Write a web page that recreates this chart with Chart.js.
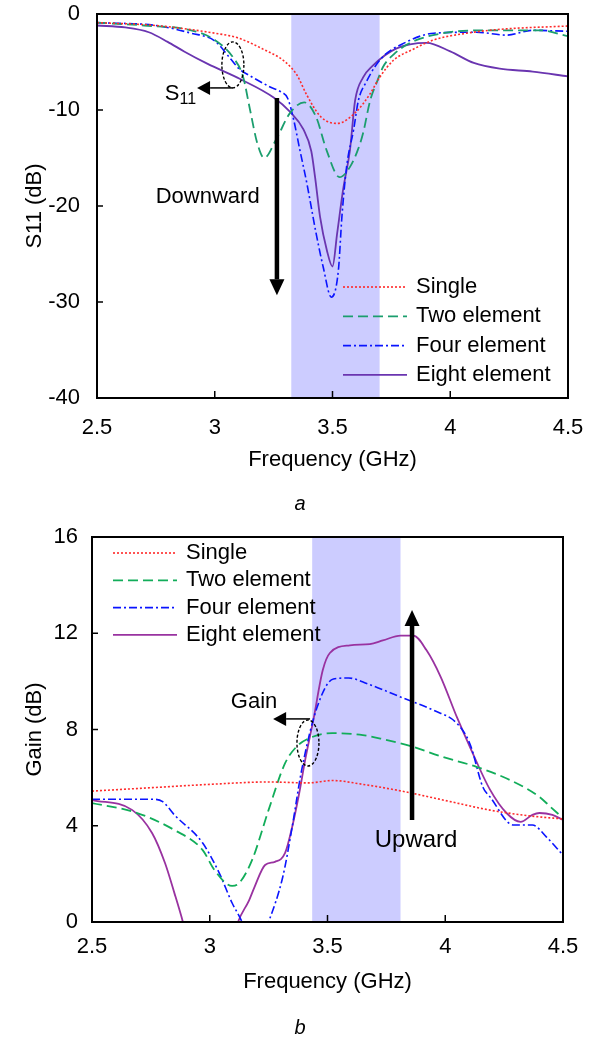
<!DOCTYPE html>
<html>
<head>
<meta charset="utf-8">
<script src="https://cdn.jsdelivr.net/npm/chart.js@4/dist/chart.umd.min.js"></script>
<style>
    body { margin: 0; background: #fff; }
    #wrap { position: relative; width: 593px; height: 1039px; }
    canvas { position: absolute; left: 0; }
    .cap { position: absolute; font: italic 20px "Liberation Sans", Arial, sans-serif; color: #000; transform: translate(-50%, -50%); }
</style>
</head>
<body>
<div id="wrap">
    <canvas id="chartA" width="593" height="520" style="top:0"></canvas>
    <canvas id="chartB" width="593" height="519" style="top:520px"></canvas>
    <div class="cap" style="left:300px;top:503px">a</div>
    <div class="cap" style="left:300px;top:1027px">b</div>
</div>
<script>
// ---- shared ----
const freqTicks = [2.5, 3, 3.5, 4, 4.5];
const s11Ticks = [-40, -30, -20, -10, 0];
const gainTicks = [0, 4, 8, 12, 16];
const seriesNames = ['Single', 'Two element', 'Four element', 'Eight element'];

// ---- (a) S11 ----
const s11SingleF = [2.5, 2.75, 3.0, 3.1, 3.2, 3.3, 3.35, 3.39, 3.45, 3.52, 3.6, 3.66, 3.7, 3.76, 3.84, 3.93, 4.07, 4.21, 4.5];
const s11Single  = [-0.9, -1.2, -2.0, -2.5, -3.6, -5.0, -6.4, -8.4, -10.7, -11.4, -10.2, -8.3, -6.6, -4.8, -3.7, -2.7, -2.0, -1.6, -1.25];

const s11TwoF = [2.5, 2.7, 2.9, 3.0, 3.08, 3.12, 3.15, 3.18, 3.21, 3.26, 3.32, 3.38, 3.43, 3.475, 3.53, 3.575, 3.61, 3.63, 3.66, 3.69, 3.715, 3.76, 3.83, 3.97, 4.14, 4.38, 4.5];
const s11Two  = [-0.9, -1.2, -1.7, -2.7, -4.6, -6.5, -10.0, -13.4, -15.0, -13.1, -10.3, -9.2, -10.7, -14.2, -17.0, -15.9, -14.0, -12.4, -9.0, -7.0, -5.5, -4.2, -3.0, -2.0, -1.7, -1.7, -2.3];

const s11FourF = [2.5, 2.75, 2.9, 3.0, 3.065, 3.107, 3.14, 3.235, 3.28, 3.31, 3.335, 3.36, 3.39, 3.43, 3.46, 3.495, 3.525, 3.54, 3.56, 3.59, 3.61, 3.645, 3.68, 3.72, 3.79, 3.93, 4.11, 4.24, 4.35, 4.5];
const s11Four  = [-0.9, -1.2, -2.0, -2.8, -4.6, -5.8, -6.3, -7.6, -8.1, -8.8, -11.0, -14.0, -17.5, -22.8, -26.3, -29.5, -26.7, -21.1, -15.9, -12.0, -9.0, -7.0, -5.5, -4.3, -3.2, -2.0, -1.9, -2.2, -1.7, -1.8];

const s11EightF = [2.5, 2.62, 2.72, 2.8, 2.87, 2.97, 3.11, 3.25, 3.32, 3.376, 3.41, 3.426, 3.447, 3.476, 3.5, 3.52, 3.545, 3.574, 3.596, 3.63, 3.67, 3.77, 3.9, 4.0, 4.1, 4.21, 4.35, 4.5];
const s11Eight  = [-1.2, -1.4, -1.9, -2.9, -3.9, -5.2, -6.8, -8.7, -10.2, -12.0, -14.3, -17.0, -21.1, -24.6, -26.3, -22.8, -18.3, -14.2, -9.0, -6.6, -5.4, -3.6, -3.0, -3.9, -5.1, -5.7, -6.0, -6.5];

const bandA = [3.325, 3.70];

// ---- (b) Gain ----
const gainSingleF = [2.5, 2.75, 3.0, 3.25, 3.42, 3.52, 3.65, 3.81, 4.0, 4.19, 4.35, 4.5];
const gainSingle  = [5.44, 5.58, 5.72, 5.82, 5.78, 5.88, 5.72, 5.45, 5.05, 4.65, 4.42, 4.28];

const gainTwoF = [2.5, 2.68, 2.85, 2.97, 3.02, 3.095, 3.125, 3.18, 3.25, 3.32, 3.37, 3.425, 3.52, 3.65, 3.735, 3.85, 3.99, 4.135, 4.275, 4.4, 4.445, 4.5];
const gainTwo  = [4.94, 4.57, 3.82, 2.99, 2.16, 1.5, 1.62, 2.58, 4.66, 6.6, 7.3, 7.65, 7.85, 7.77, 7.6, 7.32, 6.86, 6.44, 5.9, 5.2, 4.8, 4.32];

const gainFourF = [2.5, 2.76, 2.8, 2.85, 2.97, 3.04, 3.095, 3.137, 3.19, 3.25, 3.31, 3.35, 3.39, 3.455, 3.525, 3.59, 3.67, 3.81, 3.95, 4.05, 4.105, 4.16, 4.19, 4.29, 4.37, 4.43, 4.5];
const gainFour  = [5.1, 5.1, 5.0, 4.45, 3.28, 2.04, 0.79, 0, -1.5, 0, 1.87, 3.95, 6.3, 8.9, 10.1, 10.14, 9.9, 9.35, 8.8, 8.25, 7.4, 5.6, 5.2, 4.03, 4.03, 3.53, 2.78];

const gainEightF = [2.5, 2.67, 2.755, 2.81, 2.85, 2.886, 2.95, 3.05, 3.12, 3.167, 3.19, 3.235, 3.277, 3.32, 3.35, 3.38, 3.405, 3.44, 3.48, 3.51, 3.595, 3.68, 3.735, 3.81, 3.865, 3.92, 3.98, 4.05, 4.105, 4.19, 4.26, 4.32, 4.37, 4.4, 4.455, 4.5];
const gainEight  = [5.07, 4.66, 3.7, 2.45, 1.2, 0, -2.5, -2.5, 0, 0.9, 1.45, 2.37, 2.5, 2.87, 3.95, 5.36, 6.73, 8.4, 10.47, 11.18, 11.5, 11.55, 11.7, 11.9, 11.9, 11.3, 10.2, 8.5, 7.27, 5.5, 4.53, 4.16, 4.45, 4.53, 4.45, 4.24];

const bandB = [3.435, 3.81];

const FONT = '"Liberation Sans", Arial, sans-serif';
Chart.defaults.font.family = FONT;
Chart.defaults.color = '#000';

const pts = (fs, vs) => fs.map((f, i) => ({ x: f, y: vs[i] }));

function line(ctx, x1, y1, x2, y2) {
    ctx.beginPath(); ctx.moveTo(x1, y1); ctx.lineTo(x2, y2); ctx.stroke();
}

// arrow with filled head at (x2,y2)
function arrow(ctx, x1, y1, x2, y2, w, headL, headW) {
    const a = Math.atan2(y2 - y1, x2 - x1);
    const bx = x2 - headL * Math.cos(a), by = y2 - headL * Math.sin(a);
    ctx.save();
    ctx.setLineDash([]);
    ctx.strokeStyle = '#000'; ctx.fillStyle = '#000'; ctx.lineWidth = w;
    line(ctx, x1, y1, bx, by);
    ctx.beginPath();
    ctx.moveTo(x2, y2);
    ctx.lineTo(bx + headW / 2 * Math.sin(a), by - headW / 2 * Math.cos(a));
    ctx.lineTo(bx - headW / 2 * Math.sin(a), by + headW / 2 * Math.cos(a));
    ctx.closePath(); ctx.fill();
    ctx.restore();
}

function ellipse(ctx, cx, cy, rx, ry) {
    ctx.save();
    ctx.strokeStyle = '#000'; ctx.lineWidth = 1.4; ctx.setLineDash([3, 2]);
    ctx.beginPath(); ctx.ellipse(cx, cy, rx, ry, 0, 0, Math.PI * 2); ctx.stroke();
    ctx.restore();
}

// band, frame, inward ticks, legend and notes (kept in a closure, not in options)
function makeDecor(cfg) {
    return {
        id: 'decor',
        beforeDatasetsDraw(chart) {
            const { ctx, chartArea: { top, bottom } } = chart;
            const xs = chart.scales.x;
            ctx.save();
            ctx.fillStyle = '#ccccff';
            const x1 = xs.getPixelForValue(cfg.band[0]), x2 = xs.getPixelForValue(cfg.band[1]);
            ctx.fillRect(x1, top, x2 - x1, bottom - top);
            ctx.restore();
        },
        afterDatasetsDraw(chart) {
            const { ctx, chartArea: { left, right, top, bottom } } = chart;
            const xs = chart.scales.x, ys = chart.scales.y;
            ctx.save();
            ctx.strokeStyle = '#000'; ctx.lineWidth = 1.5;
            xs.ticks.forEach(t => { const p = xs.getPixelForValue(t.value); line(ctx, p, bottom, p, bottom - 7); });
            ys.ticks.forEach(t => { const p = ys.getPixelForValue(t.value); line(ctx, left, p, left + 6, p); });
            ctx.lineWidth = 2;
            ctx.strokeRect(left, top, right - left, bottom - top);
            const lg = cfg.legend;
            ctx.font = '22px ' + FONT;
            ctx.textBaseline = 'middle'; ctx.textAlign = 'left'; ctx.fillStyle = '#000';
            seriesNames.forEach((name, i) => {
                const ds = chart.data.datasets[i];
                const y = top + lg.y0 + i * lg.dy;
                ctx.strokeStyle = ds.borderColor; ctx.lineWidth = ds.borderWidth;
                ctx.setLineDash(ds.borderDash);
                line(ctx, left + lg.x0, y, left + lg.x1, y);
                ctx.setLineDash([]);
                ctx.fillText(name, left + lg.tx, y);
            });
            ctx.restore();
            cfg.draw(ctx, v => xs.getPixelForValue(v), v => ys.getPixelForValue(v));
        }
    };
}

function makeChart(canvasId, cfg) {
    const ctx = document.getElementById(canvasId).getContext('2d');
    return new Chart(ctx, {
        type: 'line',
        data: { datasets: cfg.datasets },
        options: {
            responsive: false,
            animation: false,
            devicePixelRatio: 1,
            layout: { padding: cfg.pad },
            elements: {
                point: { radius: 0 },
                line: { cubicInterpolationMode: 'monotone', fill: false }
            },
            scales: {
                x: {
                    type: 'linear', min: 2.5, max: 4.5,
                    afterBuildTicks: s => { s.ticks = freqTicks.map(v => ({ value: v })); },
                    afterFit: s => { s.height = cfg.xHeight; s.paddingLeft = 0; s.paddingRight = 0; },
                    grid: { display: false, drawTicks: false },
                    border: { display: false },
                    ticks: { padding: cfg.xTickPad, font: { size: 22 }, color: '#000', callback: v => String(v) },
                    title: { display: true, text: 'Frequency (GHz)', font: { size: 22 }, color: '#000', padding: 0 }
                },
                y: {
                    type: 'linear', min: cfg.yTicks[0], max: cfg.yTicks[cfg.yTicks.length - 1],
                    afterBuildTicks: s => { s.ticks = cfg.yTicks.map(v => ({ value: v })); },
                    afterFit: s => { s.width = cfg.yWidth; s.paddingTop = 0; s.paddingBottom = 0; },
                    grid: { display: false, drawTicks: false },
                    border: { display: false },
                    ticks: { padding: cfg.yTickPad, font: { size: 22 }, color: '#000', callback: v => String(v) },
                    title: { display: true, text: cfg.yTitle, font: { size: 22 }, color: '#000', padding: 0 }
                }
            },
            plugins: {
                legend: { display: false },
                tooltip: { enabled: false }
            }
        },
        plugins: [makeDecor(cfg)]
    });
}

makeChart('chartA', {
    pad: { left: 22, top: 14, right: 25, bottom: 47 },
    xHeight: 75, yWidth: 75, xTickPad: 17, yTickPad: 17,
    yTicks: s11Ticks, yTitle: 'S11 (dB)', band: bandA,
    legend: { x0: 246, x1: 310, tx: 319, y0: 273, dy: 29.3 },
    datasets: [
        { label: seriesNames[0], data: pts(s11SingleF, s11Single), borderColor: '#ff2a2a', borderDash: [2, 2], borderWidth: 1.6 },
        { label: seriesNames[1], data: pts(s11TwoF, s11Two), borderColor: '#1b9e6e', borderDash: [10, 5], borderWidth: 1.8 },
        { label: seriesNames[2], data: pts(s11FourF, s11Four), borderColor: '#0a14ff', borderDash: [8, 3, 2, 3], borderWidth: 1.6 },
        { label: seriesNames[3], data: pts(s11EightF, s11Eight), borderColor: '#6a35b0', borderDash: [], borderWidth: 1.8 }
    ],
    draw(ctx, px, py) {
        ellipse(ctx, px(3.077), py(-5.3), 11, 23);
        const tipX = px(2.925), ay = py(-7.7);
        arrow(ctx, px(3.077), ay, tipX, ay, 1.5, 13, 14);
        ctx.save();
        ctx.fillStyle = '#000'; ctx.textBaseline = 'alphabetic'; ctx.textAlign = 'left';
        ctx.font = '22px ' + FONT;
        const wS = ctx.measureText('S').width;
        ctx.font = '16px ' + FONT;
        const w11 = ctx.measureText('11').width;
        const sx = tipX - 1 - wS - w11;
        ctx.font = '22px ' + FONT;
        ctx.fillText('S', sx, ay + 12);
        ctx.font = '16px ' + FONT;
        ctx.fillText('11', sx + wS, ay + 16);
        ctx.font = '22px ' + FONT;
        ctx.textAlign = 'center'; ctx.textBaseline = 'middle';
        ctx.fillText('Downward', px(2.97), py(-19.06));
        ctx.restore();
        arrow(ctx, px(3.264), py(-8.75), px(3.264), py(-29.3), 4.5, 16, 15);
    }
});

makeChart('chartB', {
    pad: { left: 22, top: 17, right: 30, bottom: 44 },
    xHeight: 73, yWidth: 70, xTickPad: 12, yTickPad: 14,
    yTicks: gainTicks, yTitle: 'Gain (dB)', band: bandB,
    legend: { x0: 21, x1: 85, tx: 94, y0: 16, dy: 27.3 },
    datasets: [
        { label: seriesNames[0], data: pts(gainSingleF, gainSingle), borderColor: '#ff2a2a', borderDash: [2, 2], borderWidth: 1.6 },
        { label: seriesNames[1], data: pts(gainTwoF, gainTwo), borderColor: '#12ad5a', borderDash: [10, 5], borderWidth: 1.8 },
        { label: seriesNames[2], data: pts(gainFourF, gainFour), borderColor: '#0a14ff', borderDash: [8, 3, 2, 3], borderWidth: 1.6 },
        { label: seriesNames[3], data: pts(gainEightF, gainEight), borderColor: '#9932a0', borderDash: [], borderWidth: 1.8 }
    ],
    draw(ctx, px, py) {
        ellipse(ctx, px(3.417), py(7.44), 11, 23);
        arrow(ctx, px(3.426), py(8.44), px(3.269), py(8.44), 1.5, 13, 14);
        ctx.save();
        ctx.fillStyle = '#000'; ctx.textAlign = 'center'; ctx.textBaseline = 'middle';
        ctx.font = '22px ' + FONT;
        ctx.fillText('Gain', px(3.188), py(9.14));
        ctx.font = '24px ' + FONT;
        ctx.fillText('Upward', px(3.876), py(3.41));
        ctx.restore();
        arrow(ctx, px(3.859), py(4.24), px(3.859), py(12.97), 4.5, 16, 15);
    }
});
</script>
</body>
</html>
